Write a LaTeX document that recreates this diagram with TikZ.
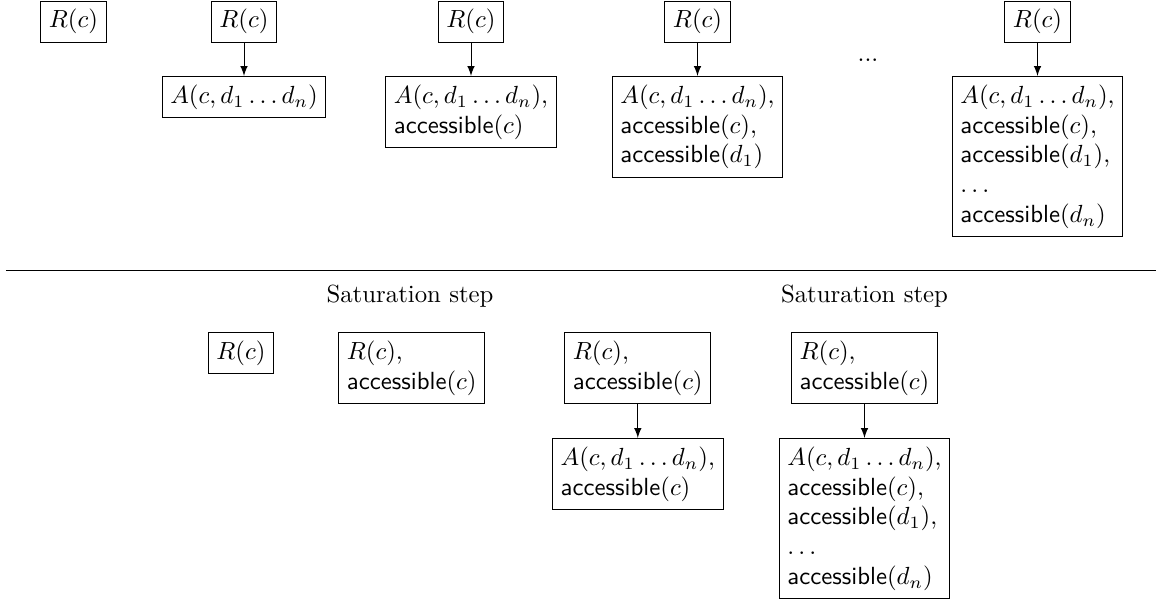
\documentclass[tikz,border=0pt]{standalone}
\begin{document}
\begin{tikzpicture}[x=0.4032pt,y=-0.4032pt,
  box/.style={draw, align=left, anchor=north},
  link/.style={-latex},
  steplabel/.style={anchor=center}]
\useasboundingbox (0,0) rectangle (1156,601);
\newcommand{\acc}{\textsf{accessible}}
% top row
\node[box] (t1r) at (73.5,0.5) {$R(c)$};
\node[box] (t2r) at (244,0.5) {$R(c)$};
\node[box] (t2a) at (244,76) {$A(c, d_1 \ldots d_n)$};
\node[box] (t3r) at (471,0.5) {$R(c)$};
\node[box] (t3a) at (471,76) {$A(c, d_1 \ldots d_n)$,\\ \acc$(c)$};
\node[box] (t4r) at (697.5,0.5) {$R(c)$};
\node[box] (t4a) at (697.5,76) {$A(c, d_1 \ldots d_n)$,\\ \acc$(c)$,\\ \acc$(d_1)$};
\node (dots) at (868,60) {...};
\node[box] (t5r) at (1037.5,0.5) {$R(c)$};
\node[box] (t5a) at (1037.5,76) {$A(c, d_1 \ldots d_n)$,\\ \acc$(c)$,\\ \acc$(d_1)$,\\ $\ldots$\\ \acc$(d_n)$};
\draw[link] (t2r) -- (t2a);
\draw[link] (t3r) -- (t3a);
\draw[link] (t4r) -- (t4a);
\draw[link] (t5r) -- (t5a);
% separator
\coordinate (sepl) at (6,270);
\coordinate (sepr) at (1156,270);
\draw (sepl) -- (sepr);
% bottom row
\node[steplabel] (s1) at (410,296) {Saturation step};
\node[steplabel] (s2) at (864.5,296) {Saturation step};
\node[box] (b1r) at (241,332) {$R(c)$};
\node[box] (b2r) at (411.7,332) {$R(c)$,\\ \acc$(c)$};
\node[box] (b3r) at (637.8,332) {$R(c)$,\\ \acc$(c)$};
\node[box] (b3a) at (637.8,438) {$A(c, d_1 \ldots d_n)$,\\ \acc$(c)$};
\node[box] (b4r) at (864.5,332) {$R(c)$,\\ \acc$(c)$};
\node[box] (b4a) at (864.5,438) {$A(c, d_1 \ldots d_n)$,\\ \acc$(c)$,\\ \acc$(d_1)$,\\ $\ldots$\\ \acc$(d_n)$};
\draw[link] (b3r) -- (b3a);
\draw[link] (b4r) -- (b4a);
\end{tikzpicture}
\end{document}
